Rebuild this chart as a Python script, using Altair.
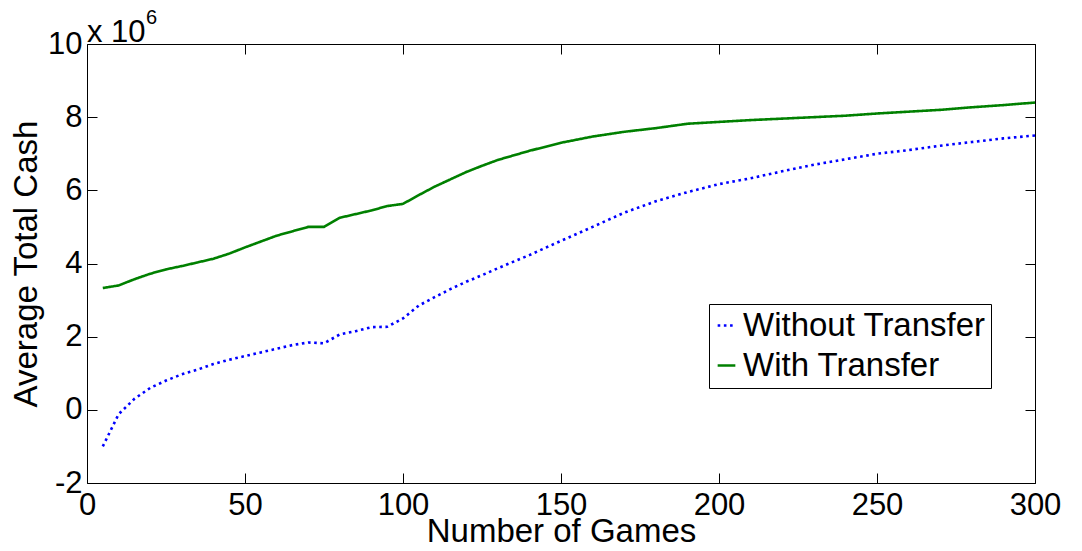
import altair as alt
import pandas as pd

# ---- data (values in units of 10^6) ----
games = [5, 10, 15, 20, 25, 30, 35, 40, 45, 50, 55, 60, 65, 70, 75, 80, 85, 90, 95, 100,
         105, 110, 115, 120, 125, 130, 140, 150, 160, 170, 180, 190, 200, 210, 220, 230,
         240, 250, 260, 270, 280, 290, 300]
without_transfer = [-1.0, -0.12, 0.3, 0.6, 0.8, 0.97, 1.1, 1.25, 1.37, 1.47, 1.57, 1.67, 1.77,
                    1.84, 1.82, 2.06, 2.15, 2.26, 2.27, 2.5, 2.85, 3.08, 3.3, 3.5, 3.68, 3.87,
                    4.23, 4.62, 5.0, 5.39, 5.7, 5.95, 6.17, 6.33, 6.52, 6.7, 6.85, 7.0, 7.1,
                    7.22, 7.32, 7.42, 7.5]
with_transfer = [3.33, 3.4, 3.57, 3.72, 3.84, 3.93, 4.03, 4.13, 4.27, 4.44, 4.6, 4.76, 4.88,
                 5.0, 5.0, 5.25, 5.35, 5.45, 5.57, 5.63, 5.87, 6.1, 6.3, 6.5, 6.67, 6.83,
                 7.08, 7.3, 7.47, 7.6, 7.7, 7.82, 7.87, 7.92, 7.96, 8.0, 8.04, 8.1, 8.15,
                 8.2, 8.27, 8.33, 8.4]
series_names = ["Without Transfer", "With Transfer"]
series_colors = ["#0000ff", "#008000"]
x_ticks = [0, 50, 100, 150, 200, 250, 300]
y_ticks = [-2, 0, 2, 4, 6, 8, 10]
exponent_base = ["x 10"]
exponent_power = ["6"]

df = pd.DataFrame({
    "games": games + games,
    "cash": without_transfer + with_transfer,
    "series": [series_names[0]] * len(games) + [series_names[1]] * len(games),
})

W, H = 948, 439
FONT = "Liberation Sans"
TICK_FS = 31
TITLE_FS = 33

x_scale = alt.Scale(domain=[0, 300], nice=False, zero=False)
y_scale = alt.Scale(domain=[-2, 10], nice=False, zero=False)

legend = alt.Legend(
    title=None, orient="none", legendX=622, legendY=260,
    strokeColor="black", fillColor="white", padding=5, cornerRadius=0,
    labelFont=FONT, labelFontSize=33, labelColor="black", labelLimit=500,
    labelOffset=0, rowPadding=6, symbolOffset=-4,
    symbolType="stroke", symbolSize=313, symbolStrokeWidth=2.6,
)

lines = alt.Chart(df).mark_line(strokeWidth=2.6, strokeCap="butt").encode(
    x=alt.X("games:Q", scale=x_scale, axis=alt.Axis(
        orient="bottom", values=x_ticks, offset=-10, tickSize=10, domain=False, grid=False,
        labelFont=FONT, labelFontSize=TICK_FS, labelColor="black", labelPadding=7,
        labelFlush=False, labelOverlap=False, labelExpr="'' + datum.value",
        title="Number of Games", titleFont=FONT, titleFontSize=TITLE_FS,
        titleFontWeight="normal", titleColor="black", titleBaseline="alphabetic",
        titleX=W / 2, titleY=68, tickColor="black")),
    y=alt.Y("cash:Q", scale=y_scale, axis=alt.Axis(
        orient="left", values=y_ticks, offset=-10, tickSize=10, domain=False, grid=False,
        labelFont=FONT, labelFontSize=TICK_FS, labelColor="black", labelPadding=5,
        labelFlush=False, labelOverlap=False, labelExpr="'' + datum.value",
        title="Average Total Cash", titleFont=FONT, titleFontSize=TITLE_FS,
        titleFontWeight="normal", titleColor="black", titleBaseline="alphabetic",
        titleAngle=270, titleX=-61, titleY=H / 2, tickColor="black")),
    color=alt.Color("series:N", scale=alt.Scale(domain=series_names, range=series_colors),
                    legend=legend),
    strokeDash=alt.StrokeDash("series:N", scale=alt.Scale(domain=series_names,
                              range=[[2.6, 3.6], [1, 0]]), legend=legend),
)

mirror = alt.Chart(df).mark_line(strokeOpacity=0).encode(
    x=alt.X("games:Q", scale=x_scale, axis=alt.Axis(
        orient="top", values=x_ticks, offset=-10, tickSize=10, domain=False, grid=False,
        labels=False, title=None, tickColor="black")),
    y=alt.Y("cash:Q", scale=y_scale, axis=alt.Axis(
        orient="right", values=y_ticks, offset=-10, tickSize=10, domain=False, grid=False,
        labels=False, title=None, tickColor="black")),
    detail="series:N",
)

exp_base = alt.Chart(pd.DataFrame({"t": exponent_base})).mark_text(
    align="left", baseline="alphabetic", font=FONT, fontSize=31, color="black"
).encode(text="t:N", x=alt.value(0), y=alt.value(-2))

exp_pow = alt.Chart(pd.DataFrame({"t": exponent_power})).mark_text(
    align="left", baseline="alphabetic", font=FONT, fontSize=20, color="black"
).encode(text="t:N", x=alt.value(59), y=alt.value(-20))

chart = alt.layer(lines, mirror, exp_base, exp_pow).resolve_axis(
    x="independent", y="independent"
).properties(
    width=W, height=H,
    autosize=alt.AutoSizeParams(type="none"),
    padding={"left": 79, "top": 36, "right": 30, "bottom": 60},
).configure_view(stroke="black", strokeWidth=1)

chart.save("out.html", embed_options={"renderer": "svg", "actions": False})
